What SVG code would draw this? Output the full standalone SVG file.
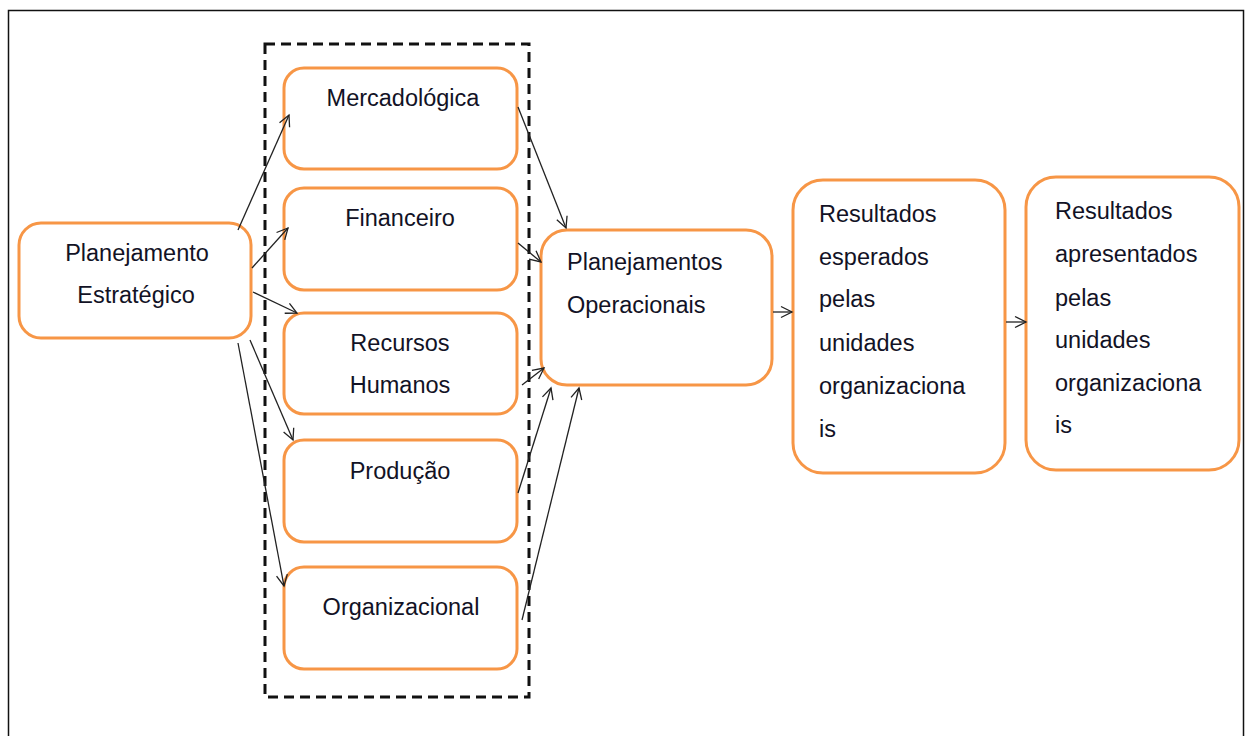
<svg xmlns="http://www.w3.org/2000/svg" width="1248" height="736" viewBox="0 0 1248 736">
<defs>
<style>
.box{fill:#fff;stroke:#F79646;stroke-width:3}
.t{font-family:"Liberation Sans",Arial,sans-serif;font-size:23.5px;fill:#121225}
.c{text-anchor:middle}
.cn line{stroke:#222;stroke-width:1.3;marker-end:url(#ah)}
</style>
<marker id="ah" markerUnits="userSpaceOnUse" markerWidth="14" markerHeight="14" viewBox="0 0 14 14" refX="12" refY="7" orient="auto">
<path d="M1,1.5 L12,7 L1,12.5" fill="none" stroke="#222" stroke-width="1.3"/>
</marker>
</defs>
<rect width="1248" height="736" fill="#fff"/>
<rect x="8.5" y="10.5" width="1235" height="740" fill="none" stroke="#111" stroke-width="1.5"/>
<rect x="265" y="44" width="264" height="653" fill="none" stroke="#111" stroke-width="3" stroke-dasharray="10,6"/>

<g id="planejamento-estrategico"><rect class="box" x="19" y="223" width="232" height="115" rx="22"/>
<text class="t c" x="137" y="261">Planejamento</text><text class="t c" x="136" y="303">Estratégico</text></g>
<g id="mercadologica"><rect class="box" x="284" y="68" width="233" height="101" rx="20"/>
<text class="t c" x="403" y="106">Mercadológica</text></g>
<g id="financeiro"><rect class="box" x="284" y="188" width="233" height="102" rx="20"/>
<text class="t c" x="400" y="226">Financeiro</text></g>
<g id="recursos-humanos"><rect class="box" x="284" y="313" width="233" height="101" rx="20"/>
<text class="t c" x="400" y="351">Recursos</text><text class="t c" x="400" y="393">Humanos</text></g>
<g id="producao"><rect class="box" x="284" y="440" width="233" height="102" rx="20"/>
<text class="t c" x="400" y="479">Produção</text></g>
<g id="organizacional"><rect class="box" x="284" y="567" width="233" height="102" rx="20"/>
<text class="t c" x="401" y="615">Organizacional</text></g>
<g id="planejamentos-operacionais"><rect class="box" x="541" y="230" width="231" height="155" rx="26"/>
<text class="t" x="567" y="270">Planejamentos</text><text class="t" x="567" y="313">Operacionais</text></g>
<g id="resultados-esperados"><rect class="box" x="793" y="180" width="212" height="293" rx="30"/>
<text class="t" x="819"><tspan x="819" y="222">Resultados</tspan><tspan x="819" y="265">esperados</tspan><tspan x="819" y="307">pelas</tspan><tspan x="819" y="351">unidades</tspan><tspan x="819" y="394">organizaciona</tspan><tspan x="819" y="437">is</tspan></text></g>
<g id="resultados-apresentados"><rect class="box" x="1026" y="177" width="213" height="293" rx="30"/>
<text class="t" x="1055"><tspan x="1055" y="219">Resultados</tspan><tspan x="1055" y="262">apresentados</tspan><tspan x="1055" y="306">pelas</tspan><tspan x="1055" y="348">unidades</tspan><tspan x="1055" y="391">organizaciona</tspan><tspan x="1055" y="433">is</tspan></text></g>

<g id="connectors" class="cn">
<line x1="238" y1="230" x2="289" y2="115"/>
<line x1="252" y1="268" x2="288" y2="228"/>
<line x1="253" y1="292" x2="297" y2="313"/>
<line x1="250" y1="340" x2="293" y2="440"/>
<line x1="238" y1="343" x2="284" y2="586"/>
<line x1="518" y1="107" x2="566" y2="228"/>
<line x1="518" y1="243" x2="541" y2="262"/>
<line x1="522" y1="385" x2="544" y2="368"/>
<line x1="518" y1="493" x2="551" y2="388"/>
<line x1="522" y1="620" x2="579" y2="388"/>
<line x1="773" y1="312" x2="792" y2="312"/>
<line x1="1006" y1="322" x2="1026" y2="322"/>
</g>
</svg>
